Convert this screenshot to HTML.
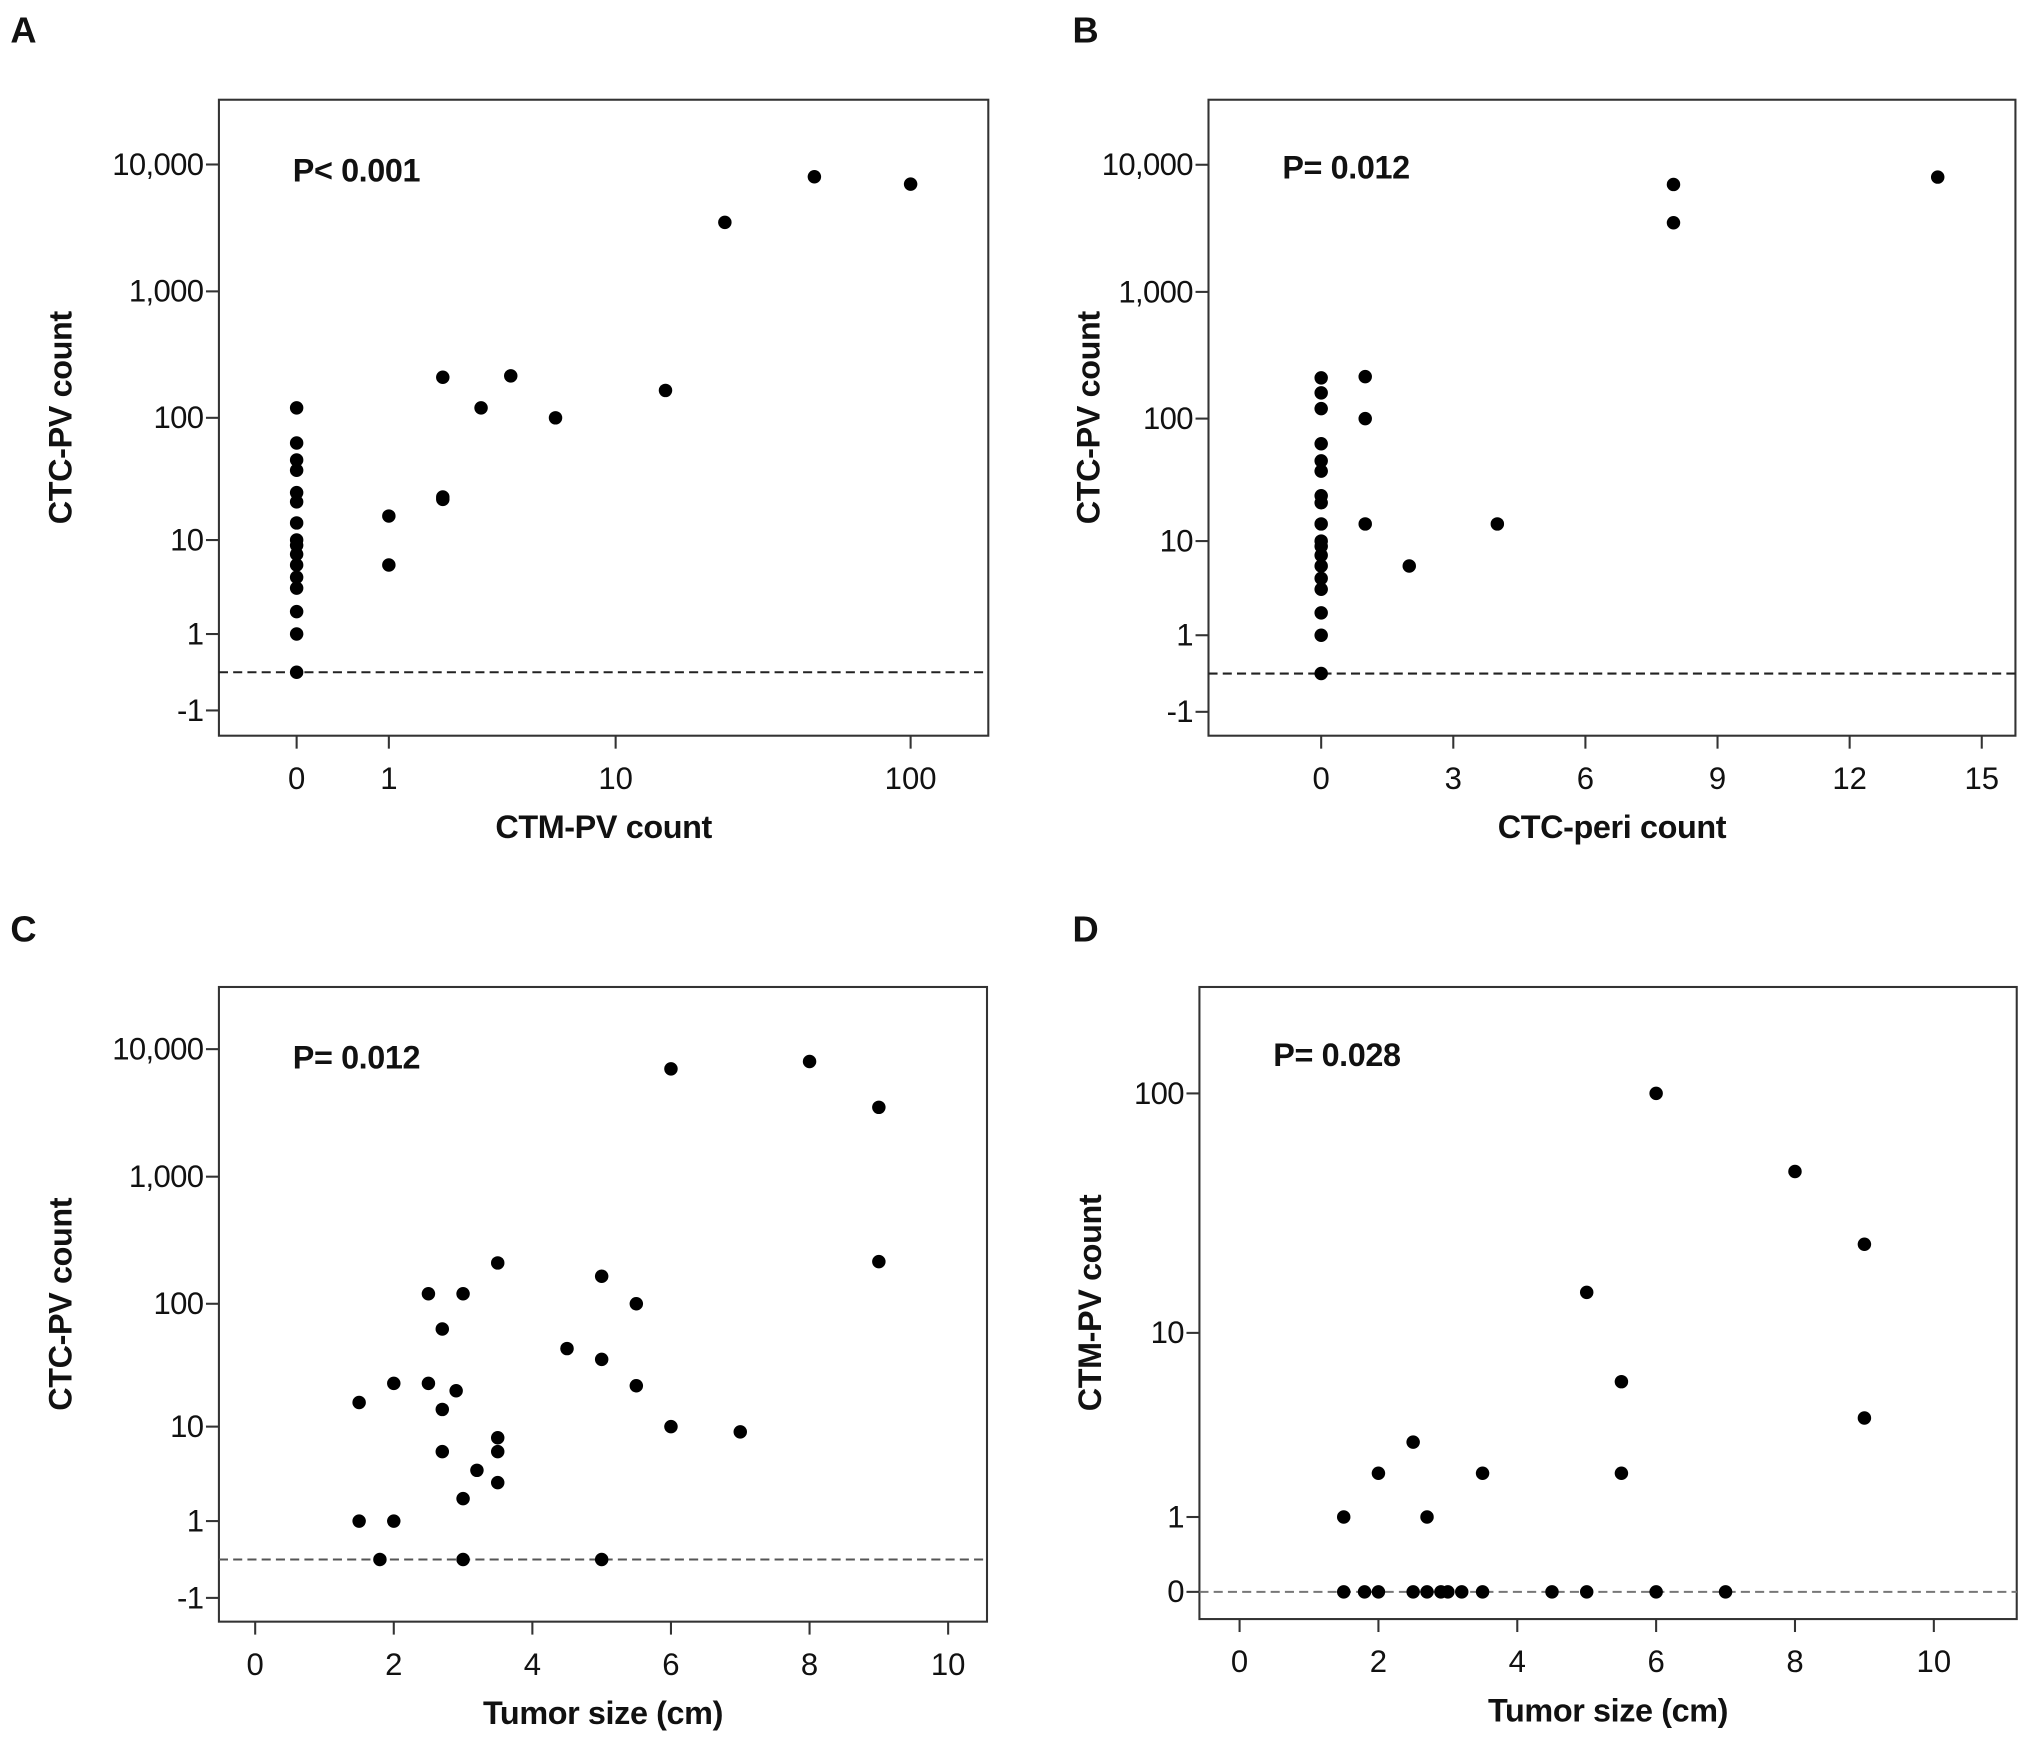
<!DOCTYPE html>
<html><head><meta charset="utf-8"><style>
html,body{margin:0;padding:0;background:#fff}
svg{display:block}
text{font-family:"Liberation Sans",Arial,sans-serif;fill:#111}
</style></head><body>
<svg id="fig" width="2031" height="1746" viewBox="0 0 1568 1348" xmlns="http://www.w3.org/2000/svg"></svg>
<script>
// Panel A: CTM-PV count vs CTC-PV count
const aX = [0,0,0,0,0,0,0,0,0,0,0,0,0,0,0,0,1,1,2,2,2,3,4,6,15,24,48,100];
const aY = [120,63,46,38,25,21,14,10,9,7.5,6,4.6,3.6,2,1,0,16,6,210,23,22,120,215,100,165,3500,8000,7000];
// Panel B: CTC-peri count vs CTC-PV count
const bX = [0,0,0,0,0,0,0,0,0,0,0,0,0,0,0,0,0,0,1,1,1,2,4,8,8,14];
const bY = [210,160,120,63,46,38,24,21,14,10,9,7.5,6,4.6,3.6,2,1,0,215,100,14,6,14,7000,3500,8000];
// Panel C: tumor size vs CTC-PV count
const cX = [1.5,1.5,1.8,2,2,2.5,2.5,2.7,2.7,2.7,2.9,3,3,3,3.2,3.5,3.5,3.5,3.5,4.5,5,5,5,5.5,5.5,6,6,7,8,9,9];
const cY = [16,1,0,23,1,120,23,63,14,6,20,120,2,0,4,210,8,6,3,44,165,36,0,100,22,10,7000,9,8000,3500,215];
// Panel D: tumor size vs CTM-PV count
const dX = [1.5,1.5,1.8,2,2,2.5,2.5,2.7,2.7,2.9,3,3.2,3.5,3.5,4.5,5,5,5.5,5.5,6,6,7,8,9,9];
const dY = [1,0,0,0,2,3,0,1,0,0,0,0,0,2,0,15,0,6,2,100,0,0,48,24,4];
// Tick labels
const yTicksCTC = [-1,1,10,100,1000,10000];
const yTickLabelsCTC = ["-1","1","10","100","1,000","10,000"];
const aXTicks = [0,1,10,100];
const aXTickLabels = ["0","1","10","100"];
const bXTicks = [0,3,6,9,12,15];
const tumorTicks = [0,2,4,6,8,10];
const dYTicks = [0,1,10,100];
const dYTickLabels = ["0","1","10","100"];

const NS="http://www.w3.org/2000/svg";
const svg=document.getElementById('fig');
function f(v){return Math.sign(v)*Math.log10(Math.abs(v)+1);}
function mk(tag,attrs,parent){const e=document.createElementNS(NS,tag);for(const k in attrs)e.setAttribute(k,attrs[k]);(parent||svg).appendChild(e);return e;}

function panel(cfg){
  const g=mk('g',{});
  
  
  const fr=mk('rect',{x:cfg.x0,y:cfg.y0,width:cfg.x1-cfg.x0,height:cfg.y1-cfg.y0,fill:'none',stroke:'#333','stroke-width':1.6},g);
  
  
  const lt=mk('text',{x:cfg.letterX,y:cfg.letterY,'font-size':28,'font-weight':'bold'},g);lt.textContent=cfg.letter;
  
  
  cfg.yT.forEach((v,i)=>{
    const y=cfg.sy(v);
    mk('line',{x1:cfg.x0-10,x2:cfg.x0,y1:y,y2:y,stroke:'#333','stroke-width':1.6},g);
    const t=mk('text',{x:cfg.x0-12,y:y+8,'font-size':24,'text-anchor':'end','letter-spacing':-0.5},g);t.textContent=cfg.yL[i];
    
    
  });
  cfg.xT.forEach((v,i)=>{
    const x=cfg.sx(v);
    mk('line',{x1:x,x2:x,y1:cfg.y1,y2:cfg.y1+10,stroke:'#333','stroke-width':1.6},g);
    const t=mk('text',{x:x,y:cfg.y1+41,'font-size':24,'text-anchor':'middle'},g);t.textContent=cfg.xL[i];
    
    
  });
  const dl=mk('line',{x1:cfg.x0,x2:cfg.x1,y1:cfg.sy(0),y2:cfg.sy(0),stroke:cfg.dashCol,'stroke-width':1.6,'stroke-dasharray':'7,4'},g);
  
  
  const xt=mk('text',{x:(cfg.x0+cfg.x1)/2,y:cfg.y1+79,'font-size':25,'font-weight':'bold','text-anchor':'middle','letter-spacing':-0.3},g);xt.textContent=cfg.xTitle;
  
  
  const yc=(cfg.y0+cfg.y1)/2;
  const yt=mk('text',{x:cfg.yTitleX,y:yc,'font-size':25,'font-weight':'bold','text-anchor':'middle','letter-spacing':-0.3,transform:'rotate(-90 '+cfg.yTitleX+' '+yc+')'},g);yt.textContent=cfg.yTitle;
  
  
  const pt=mk('text',{x:cfg.x0+57,y:cfg.pY,'font-size':25,'font-weight':'bold','letter-spacing':-0.3},g);pt.textContent=cfg.p;
  
  
  cfg.xs.forEach((xv,i)=>{
    const c=mk('circle',{cx:cfg.sx(xv),cy:cfg.sy(cfg.ys[i]),r:5.2,fill:'#000'},g);
    
    
  });
}

panel({id:'a',letter:'A',letterX:8,letterY:33,x0:169,x1:763,y0:77,y1:568,
  sx:v=>229+236.5*f(v), sy:v=>519-98*f(v),
  yT:yTicksCTC,yL:yTickLabelsCTC,xT:aXTicks,xL:aXTickLabels,dashCol:'#222',
  xTitle:'CTM-PV count',yTitle:'CTC-PV count',yTitleX:55,p:'P< 0.001',pY:140,xs:aX,ys:aY});
panel({id:'b',letter:'B',letterX:828,letterY:33,x0:933,x1:1556,y0:77,y1:568,
  sx:v=>1020+34*v, sy:v=>520-98.2*f(v),
  yT:yTicksCTC,yL:yTickLabelsCTC,xT:bXTicks,xL:bXTicks.map(String),dashCol:'#222',
  xTitle:'CTC-peri count',yTitle:'CTC-PV count',yTitleX:849,p:'P= 0.012',pY:138,xs:bX,ys:bY});
panel({id:'c',letter:'C',letterX:8,letterY:727,x0:169,x1:762,y0:762,y1:1252,
  sx:v=>197+53.5*v, sy:v=>1204-98.5*f(v),
  yT:yTicksCTC,yL:yTickLabelsCTC,xT:tumorTicks,xL:tumorTicks.map(String),dashCol:'#555',
  xTitle:'Tumor size (cm)',yTitle:'CTC-PV count',yTitleX:55,p:'P= 0.012',pY:825,xs:cX,ys:cY});
panel({id:'d',letter:'D',letterX:828,letterY:727,x0:926,x1:1557,y0:762,y1:1250,
  sx:v=>957+53.6*v, sy:v=>1229-192*f(v),
  yT:dYTicks,yL:dYTickLabels,xT:tumorTicks,xL:tumorTicks.map(String),dashCol:'#777',
  xTitle:'Tumor size (cm)',yTitle:'CTM-PV count',yTitleX:850,p:'P= 0.028',pY:823,xs:dX,ys:dY});
</script>
</body></html>
